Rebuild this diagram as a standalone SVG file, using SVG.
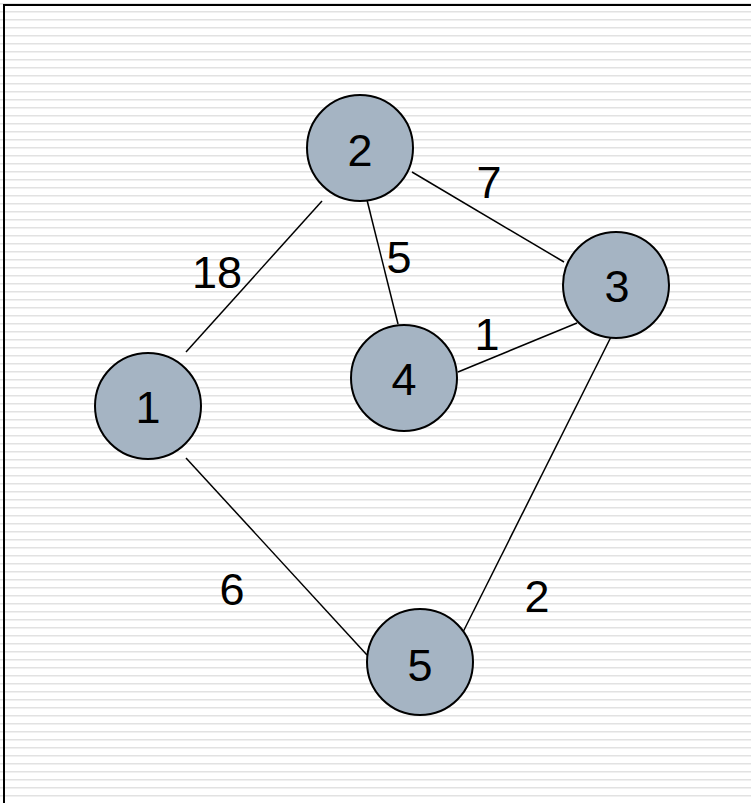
<svg xmlns="http://www.w3.org/2000/svg" width="751" height="803" viewBox="0 0 751 803">
<style>
.node circle{fill:#a5b4c3;stroke:#000;stroke-width:2}
.lbl{font-family:"Liberation Sans",Arial,sans-serif;font-size:45px;fill:#000;text-anchor:middle}
#edges line{stroke:#000;stroke-width:1.5}
</style>
<defs>
<pattern id="hl" x="0" y="0" width="8" height="8" patternUnits="userSpaceOnUse">
<rect width="8" height="8" fill="#fff"/>
<rect y="3" width="8" height="1" fill="#e2e2e2"/>
<rect y="4" width="8" height="1" fill="#f0f0f0"/>
</pattern>
</defs>
<rect width="751" height="803" fill="url(#hl)"/>
<path d="M4,803 V5 H751" fill="none" stroke="#000" stroke-width="2"/>
<g id="edges">
<line x1="186" y1="352" x2="322" y2="201"/>
<line x1="412" y1="172" x2="564" y2="262"/>
<line x1="367" y1="200" x2="398" y2="324"/>
<line x1="458" y1="372" x2="577" y2="323"/>
<line x1="186" y1="458" x2="367" y2="655"/>
<line x1="624" y1="311" x2="459" y2="640"/>
<text class="lbl" x="217" y="288">18</text>
<text class="lbl" x="489" y="198">7</text>
<text class="lbl" x="399" y="273">5</text>
<text class="lbl" x="487" y="350">1</text>
<text class="lbl" x="232" y="605">6</text>
<text class="lbl" x="537" y="612">2</text>
</g>
<g id="node1" class="node"><circle cx="148" cy="406" r="53"/><text class="lbl" x="148" y="423">1</text></g>
<g id="node2" class="node"><circle cx="360" cy="148" r="53"/><text class="lbl" x="360" y="166">2</text></g>
<g id="node3" class="node"><circle cx="616" cy="285" r="53"/><text class="lbl" x="617" y="302">3</text></g>
<g id="node4" class="node"><circle cx="404" cy="378" r="53"/><text class="lbl" x="404" y="395">4</text></g>
<g id="node5" class="node"><circle cx="420" cy="662" r="53"/><text class="lbl" x="420" y="681">5</text></g>
</svg>
